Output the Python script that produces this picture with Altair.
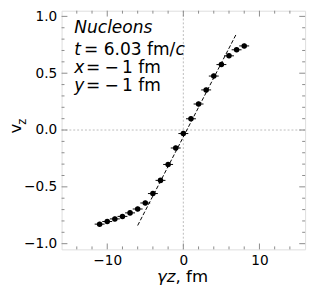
import altair as alt
import pandas as pd

# data
gz = [-11, -10, -9, -8, -7, -6, -5, -4, -3, -2, -1, 0, 1, 2, 3, 4, 5, 6, 7, 8]
vz = [-0.828, -0.805, -0.782, -0.760, -0.729, -0.695, -0.642, -0.559, -0.443, -0.303,
      -0.158, -0.031, 0.099, 0.229, 0.353, 0.475, 0.576, 0.653, 0.706, 0.740]
gz_err = [0.65] * 20
vz_err = [0.02] * 20

fit_x = [-6.0, 7.0]
fit_y = [-0.84, 0.85]

x_major = [-10, 0, 10]
x_minor = [-14, -12, -8, -6, -4, -2, 2, 4, 6, 8, 12, 14]
y_major = [-1.0, -0.5, 0.0, 0.5, 1.0]
y_minor = [-0.9, -0.8, -0.7, -0.6, -0.4, -0.3, -0.2, -0.1, 0.1, 0.2, 0.3, 0.4, 0.6, 0.7, 0.8, 0.9]

W, H = 250, 245
FONT = "DejaVu Sans"
SPINE = "#8a8a8a"

df = pd.DataFrame({"gz": gz, "vz": vz, "ex": gz_err, "ey": vz_err})
df["xlo"] = df.gz - df.ex
df["xhi"] = df.gz + df.ex
df["ylo"] = df.vz - df.ey
df["yhi"] = df.vz + df.ey

xs = alt.Scale(domain=[-16, 16], nice=False, zero=False)
ys = alt.Scale(domain=[-1.05, 1.05], nice=False, zero=False)
xaxis = alt.Axis(values=x_major, ticks=False, domain=False, grid=False, title=None,
                 labelFontSize=14, labelColor="black", labelFont=FONT, labelPadding=5, format="d")
yaxis = alt.Axis(values=y_major, ticks=False, domain=False, grid=False, title=None,
                 labelFontSize=14, labelColor="black", labelFont=FONT, labelPadding=5, format=".1f")

def X(f):
    return alt.X(f, type="quantitative", scale=xs, axis=xaxis)

def Y(f):
    return alt.Y(f, type="quantitative", scale=ys, axis=yaxis)

# zero reference lines
zx = alt.Chart(pd.DataFrame({"v": [0]})).mark_rule(color="#aaaaaa", strokeWidth=0.8, strokeDash=[2, 2]).encode(x=X("v"))
zy = alt.Chart(pd.DataFrame({"v": [0]})).mark_rule(color="#aaaaaa", strokeWidth=0.8, strokeDash=[2, 2]).encode(y=Y("v"))

def xticks(vals, ln):
    d = pd.DataFrame({"v": vals})
    b = alt.Chart(d).mark_rule(color=SPINE, strokeWidth=1).encode(x=X("v"), y=alt.value(H), y2=alt.value(H - ln))
    t = alt.Chart(d).mark_rule(color=SPINE, strokeWidth=1).encode(x=X("v"), y=alt.value(0), y2=alt.value(ln))
    return [b, t]

def yticks(vals, ln):
    d = pd.DataFrame({"v": vals})
    l = alt.Chart(d).mark_rule(color=SPINE, strokeWidth=1).encode(y=Y("v"), x=alt.value(0), x2=alt.value(ln))
    r = alt.Chart(d).mark_rule(color=SPINE, strokeWidth=1).encode(y=Y("v"), x=alt.value(W), x2=alt.value(W - ln))
    return [l, r]

ticks = xticks(x_major, 6) + xticks(x_minor, 3) + yticks(y_major, 6) + yticks(y_minor, 3)

base = alt.Chart(df)
exbar = base.mark_rule(color="black", strokeWidth=1).encode(x=X("xlo"), x2="xhi", y=Y("vz"))
eybar = base.mark_rule(color="black", strokeWidth=1).encode(x=X("gz"), y=Y("ylo"), y2="yhi")
pts = base.mark_circle(color="black", opacity=1, size=32).encode(x=X("gz"), y=Y("vz"))

fit = alt.Chart(pd.DataFrame({"x": fit_x, "y": fit_y})).mark_line(
    color="black", strokeWidth=1, strokeDash=[4, 2]).encode(x=X("x"), y=Y("y"))

one = alt.Data(values=[{"a": 1}])

def txt(s, x, y, size=17.5, italic=False, angle=0, align="left"):
    kw = dict(text=s, font=FONT, fontSize=size, color="black", align=align, baseline="alphabetic")
    if italic:
        kw["fontStyle"] = "italic"
    if angle:
        kw["angle"] = angle
    return alt.Chart(one).mark_text(**kw).encode(x=alt.value(x), y=alt.value(y))

texts = [
    txt("Nucleons", 13, 23, italic=True),
    txt("t", 13, 45, italic=True),
    txt("= 6.03 fm/", 23, 45),
    txt("c", 117, 45, italic=True),
    txt("x", 13, 64, italic=True),
    txt("=", 25, 64),
    txt("−", 44, 64),
    txt("1 fm", 62, 64),
    txt("y", 13, 82, italic=True),
    txt("=", 25, 82),
    txt("−", 44, 82),
    txt("1 fm", 62, 82),
    txt("γz", 98, 279, size=17, italic=True),
    txt(", fm", 117, 279, size=17),
    txt("v", -42, 121, size=17, angle=270, align="center"),
    txt("z", -37, 114, size=12, angle=270, align="center"),
]

chart = alt.layer(zx, zy, *ticks, fit, exbar, eybar, pts, *texts).properties(
    width=W, height=H,
    autosize=alt.AutoSizeParams(type="none"),
    padding={"left": 55, "top": -1, "right": 4, "bottom": 40},
).configure_view(stroke=SPINE, strokeWidth=1.5).configure(font=FONT)

chart.save("out.html", embed_options={"renderer": "svg", "actions": False})
